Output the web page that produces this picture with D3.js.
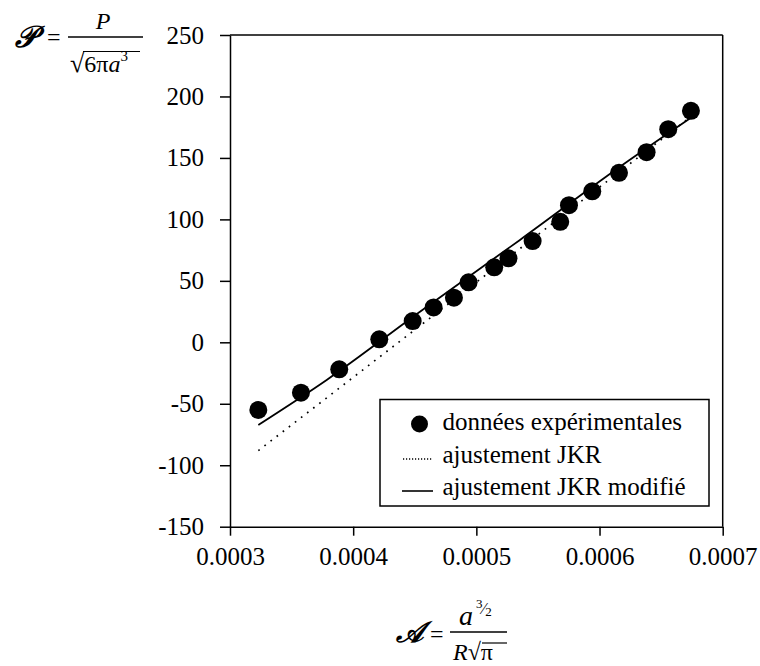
<!DOCTYPE html>
<html>
<head>
<meta charset="utf-8">
<script src="https://cdn.jsdelivr.net/npm/d3@7"></script>
<style>
  html, body { margin: 0; padding: 0; background: #fff; }
  svg { display: block; }
  svg text { font-family: "Liberation Serif", "Times New Roman", Times, "Noto Serif", "DejaVu Serif", serif; fill: #000; }
</style>
</head>
<body>
<svg id="chart" width="760" height="666"></svg>
<script>
// ---- data ----
const expX = [0.000323, 0.0003576, 0.0003887, 0.0004212, 0.0004483, 0.0004653, 0.0004818, 0.0004937, 0.0005145,
              0.0005261, 0.0005457, 0.0005681, 0.0005752, 0.0005941, 0.0006158, 0.0006382, 0.0006558, 0.0006742];
const expY = [-55, -41, -22, 2.4, 17.3, 28.4, 36.3, 48.8, 61, 68.3, 82.4, 98, 111.6, 122.8, 137.9, 154.7, 173.4, 188.3];

const jkrX = [0.000323, 0.000673];
const jkrY = [-88.1, 182.7];

const modX = [0.000323, 0.0003785, 0.0004542, 0.0005354, 0.0006166, 0.0006734];
const modY = [-67.2, -30.6, 24.9, 83.3, 142.8, 182.1];

const xTicks = [0.0003, 0.0004, 0.0005, 0.0006, 0.0007];
const yTicks = [-150, -100, -50, 0, 50, 100, 150, 200, 250];
const legendLabels = ["données expérimentales", "ajustement JKR", "ajustement JKR modifié"];

// ---- layout ----
const svg = d3.select("#chart");
const L = 230, R = 722.7, T = 35, B = 526.7;
const x = d3.scaleLinear().domain([0.0003, 0.0007]).range([L, R]);
const y = d3.scaleLinear().domain([-150, 250]).range([B, T]);
const FS = 25;

// frame (top & right)
svg.append("line").attr("x1", L).attr("x2", R).attr("y1", T).attr("y2", T)
  .attr("stroke", "#000").attr("stroke-width", 1.5);
svg.append("line").attr("x1", R).attr("x2", R).attr("y1", T).attr("y2", B)
  .attr("stroke", "#000").attr("stroke-width", 1.5);

// axes
const yAxis = svg.append("g").attr("transform", `translate(${L},0)`)
  .call(d3.axisLeft(y).tickValues(yTicks).tickSize(10).tickSizeOuter(0).tickPadding(16)
    .tickFormat(d => String(d)));
const xAxis = svg.append("g").attr("transform", `translate(0,${B})`)
  .call(d3.axisBottom(x).tickValues(xTicks).tickSize(9).tickSizeOuter(0).tickPadding(12)
    .tickFormat(d3.format(".4f")));
[yAxis, xAxis].forEach(g => {
  g.attr("font-family", null).attr("font-size", FS);
  g.select(".domain").attr("stroke", "#000").attr("stroke-width", 1.5);
  g.selectAll(".tick line").attr("stroke", "#000").attr("stroke-width", 1.5);
  g.selectAll(".tick text").attr("font-size", FS).attr("fill", "#000");
});

// lines
const lineJ = d3.line().x((d, i) => x(jkrX[i])).y((d, i) => y(jkrY[i]));
svg.append("path").datum(jkrY).attr("d", lineJ)
  .attr("fill", "none").attr("stroke", "#000").attr("stroke-width", 1.7)
  .attr("stroke-dasharray", "1.7,6").attr("stroke-linecap", "butt");

const lineM = d3.line().x((d, i) => x(modX[i])).y((d, i) => y(modY[i])).curve(d3.curveMonotoneX);
svg.append("path").datum(modY).attr("d", lineM)
  .attr("fill", "none").attr("stroke", "#000").attr("stroke-width", 1.8);

// points
svg.append("g").selectAll("circle").data(expY).join("circle")
  .attr("cx", (d, i) => x(expX[i])).attr("cy", d => y(d)).attr("r", 9).attr("fill", "#000");

// legend
const lg = svg.append("g");
lg.append("rect").attr("x", 380).attr("y", 399.5).attr("width", 329).attr("height", 106.5)
  .attr("fill", "#fff").attr("stroke", "#000").attr("stroke-width", 1.5);
const rows = [430, 463, 495];
lg.append("circle").attr("cx", 419.5).attr("cy", rows[0] - 6).attr("r", 8.5).attr("fill", "#000");
lg.append("line").attr("x1", 403).attr("x2", 433).attr("y1", rows[1] - 4).attr("y2", rows[1] - 4)
  .attr("stroke", "#000").attr("stroke-width", 1.4).attr("stroke-dasharray", "1.2,1.8");
lg.append("line").attr("x1", 402).attr("x2", 433).attr("y1", rows[2] - 4).attr("y2", rows[2] - 4)
  .attr("stroke", "#000").attr("stroke-width", 1.6);
lg.selectAll("text.lab").data(legendLabels).join("text").attr("class", "lab")
  .attr("x", 442.5).attr("y", (d, i) => rows[i]).attr("font-size", FS).text(d => d);

// ---- y title: 𝒫 = P / √(6πa³) ----
const yt = svg.append("g");
yt.append("text").attr("x", 15).attr("y", 47).attr("font-size", 30)
  .attr("font-style", "italic").attr("font-weight", "bold").text("𝒫");
yt.append("text").attr("x", 47).attr("y", 45).attr("font-size", 24).text("=");
yt.append("line").attr("x1", 68).attr("x2", 143).attr("y1", 37).attr("y2", 37).attr("stroke", "#000").attr("stroke-width", 1.3);
yt.append("text").attr("x", 103).attr("y", 29).attr("font-size", 24).attr("font-style", "italic")
  .attr("text-anchor", "middle").text("P");
yt.append("line").attr("x1", 83).attr("x2", 140).attr("y1", 51.5).attr("y2", 51.5).attr("stroke", "#000").attr("stroke-width", 1.2);
const den = yt.append("text").attr("x", 70).attr("y", 72).attr("font-size", 24);
den.append("tspan").attr("font-size", 26).text("√");
den.append("tspan").text("6π");
den.append("tspan").attr("font-style", "italic").text("a");
den.append("tspan").attr("font-size", 15).attr("dy", -11).text("3");

// ---- x title: 𝒜 = a^(3/2) / (R√π) ----
const xt = svg.append("g");
xt.append("text").attr("x", 396).attr("y", 642).attr("font-size", 29)
  .attr("font-style", "italic").attr("font-weight", "bold").text("𝒜");
xt.append("text").attr("x", 430).attr("y", 642).attr("font-size", 24).text("=");
xt.append("line").attr("x1", 450).attr("x2", 507).attr("y1", 632).attr("y2", 632).attr("stroke", "#000").attr("stroke-width", 1.3);
const num = xt.append("text").attr("x", 459).attr("y", 625).attr("font-size", 28);
num.append("tspan").attr("font-style", "italic").text("a");
num.append("tspan").attr("font-size", 13).attr("dy", -17).attr("dx", 3).text("3");
num.append("tspan").attr("font-size", 16).attr("dy", 6).text("⁄");
num.append("tspan").attr("font-size", 13).attr("dy", 2).text("2");
xt.append("line").attr("x1", 482).attr("x2", 507).attr("y1", 643).attr("y2", 643).attr("stroke", "#000").attr("stroke-width", 1.2);
const dn = xt.append("text").attr("x", 453).attr("y", 660).attr("font-size", 24);
dn.append("tspan").attr("font-style", "italic").text("R");
dn.append("tspan").text("√π");
</script>
</body>
</html>
